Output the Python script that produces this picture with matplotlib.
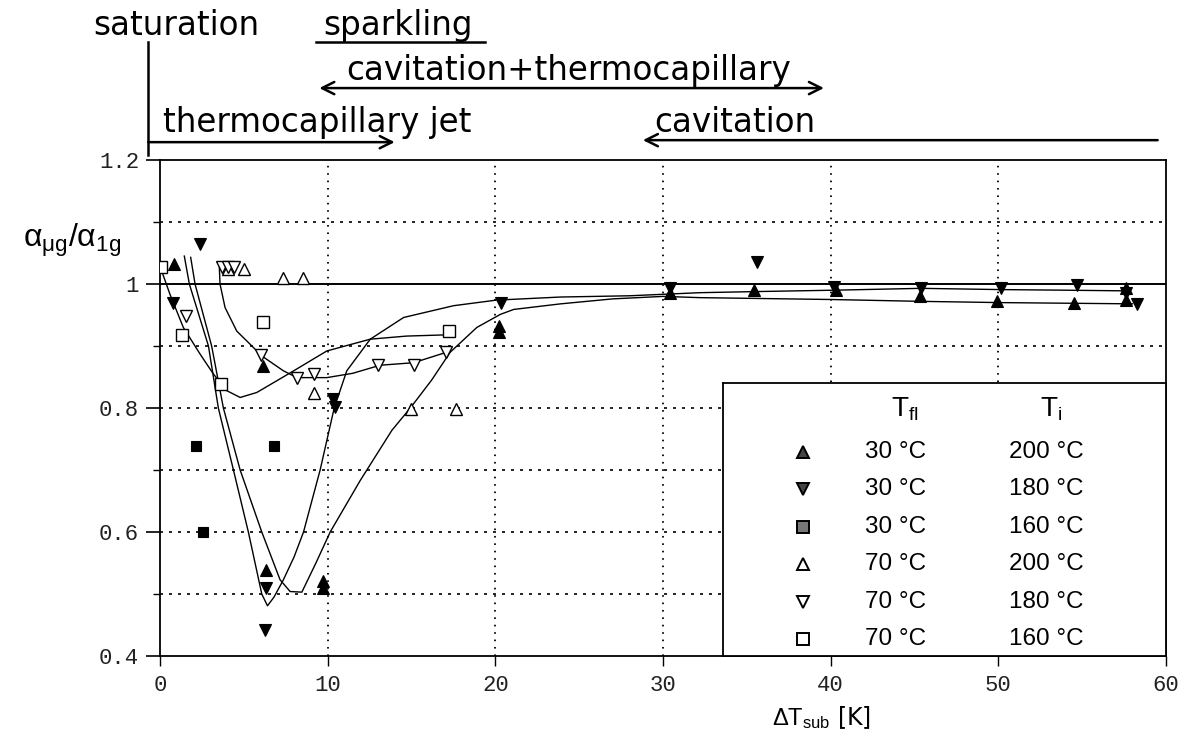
import matplotlib
matplotlib.use("Agg")
import matplotlib.pyplot as plt

plt.rcParams['mathtext.fontset'] = 'custom'
plt.rcParams['mathtext.rm'] = 'Liberation Sans'
plt.rcParams['mathtext.it'] = 'Liberation Sans:italic'
plt.rcParams['mathtext.bf'] = 'Liberation Sans:bold'

# measured points (dT_sub [K], alpha ratio)
# 30 C / 200 C  (filled up)
x_f200 = [0.84, 6.17, 6.33, 9.71, 9.75, 20.2, 20.2, 30.4, 35.4, 40.3, 45.3, 49.9, 54.5, 57.6, 57.6]
y_f200 = [1.033, 0.868, 0.539, 0.521, 0.510, 0.932, 0.922, 0.985, 0.991, 0.990, 0.980, 0.972, 0.970, 0.994, 0.975]
# 30 C / 180 C  (filled down)
x_f180 = [0.76, 2.39, 6.30, 6.27, 10.31, 10.45, 20.36, 30.4, 35.6, 40.2, 45.4, 50.15, 54.7, 57.6, 58.3]
y_f180 = [0.970, 1.064, 0.509, 0.442, 0.815, 0.801, 0.970, 0.994, 1.035, 0.995, 0.994, 0.994, 0.999, 0.985, 0.967]
# 30 C / 160 C  (filled square)
x_f160 = [2.15, 6.77, 2.55]
y_f160 = [0.738, 0.738, 0.600]
# 70 C / 200 C  (open up)
x_o200 = [4.08, 5.01, 7.36, 8.50, 9.16, 14.96, 17.67]
y_o200 = [1.025, 1.024, 1.010, 1.010, 0.825, 0.799, 0.799]
# 70 C / 180 C  (open down)
x_o180 = [1.55, 3.68, 4.08, 4.42, 6.01, 8.16, 9.21, 13.03, 15.12, 17.07]
y_o180 = [0.949, 1.028, 1.028, 1.028, 0.885, 0.849, 0.855, 0.869, 0.869, 0.891]
# 70 C / 160 C  (open square)
x_o160 = [0.06, 1.33, 3.62, 6.17, 17.21]
y_o160 = [1.028, 0.918, 0.838, 0.939, 0.924]

# fitted curves
fx_f180 = [1.45, 1.75, 2.89, 3.48, 4.38, 5.27, 6.07, 6.41, 6.8, 7.36, 8.0, 8.56, 9.55, 10.39, 11.14,
           12.54, 14.53, 17.51, 20.06, 23.9, 28.0, 32.2, 36.0, 40.2, 45.4, 50.1, 54.0, 57.4]
fy_f180 = [1.045, 1.0, 0.9, 0.8, 0.7, 0.6, 0.5, 0.481, 0.495, 0.523, 0.56, 0.6, 0.7, 0.8, 0.86,
           0.911, 0.946, 0.965, 0.974, 0.979, 0.981, 0.986, 0.988, 0.990, 0.993, 0.991, 0.990, 0.989]
fx_f200 = [1.83, 2.09, 3.08, 3.78, 4.78, 6.07, 7.16, 7.76, 8.46, 9.3, 10.15, 11.94, 13.83, 14.93, 16.2,
           17.31, 18.9, 20.3, 21.1, 23.9, 27.0, 30.0, 32.2, 40.0, 45.4, 50.1, 58.0]
fy_f200 = [1.043, 1.0, 0.9, 0.8, 0.7, 0.6, 0.523, 0.504, 0.503, 0.55, 0.6, 0.683, 0.764, 0.8, 0.845,
           0.89, 0.93, 0.951, 0.959, 0.968, 0.976, 0.980, 0.978, 0.975, 0.972, 0.970, 0.968]
fx_o160 = [0.06, 0.6, 1.39, 2.39, 3.18, 3.98, 4.78, 5.77, 6.97, 8.16, 9.95, 12.54, 14.7, 17.1]
fy_o160 = [1.024, 0.983, 0.93, 0.887, 0.855, 0.828, 0.817, 0.825, 0.844, 0.863, 0.892, 0.911, 0.916, 0.918]
fx_o180 = [3.54, 3.58, 3.88, 4.58, 5.37, 6.07, 7.36, 8.16, 9.95, 11.5, 13.13, 15.12, 17.1]
fy_o180 = [1.026, 1.0, 0.962, 0.924, 0.903, 0.884, 0.86, 0.849, 0.849, 0.856, 0.869, 0.873, 0.89]

x_ticks = [0, 10, 20, 30, 40, 50, 60]
x_ticklabels = ['0', '10', '20', '30', '40', '50', '60']
y_ticks = [0.4, 0.6, 0.8, 1.0, 1.2]
y_ticklabels = ['0.4', '0.6', '0.8', '1', '1.2']

leg_tfl = ['30 °C', '30 °C', '30 °C', '70 °C', '70 °C', '70 °C']
leg_ti = ['200 °C', '180 °C', '160 °C', '200 °C', '180 °C', '160 °C']

fig = plt.figure(figsize=(11.89, 7.36), dpi=100)
ax = fig.add_axes([160/1189, 80/736, 1006/1189, 496/736])
ax.set_xlim(0, 60)
ax.set_ylim(0.4, 1.2)

for s in ax.spines.values():
    s.set_linewidth(1.3)

mono = 'Liberation Mono'
ax.set_xticks(x_ticks, x_ticklabels, fontfamily=mono, fontsize=16, color='#222222')
ax.set_yticks(y_ticks, y_ticklabels, fontfamily=mono, fontsize=16, color='#222222')
ax.set_yticks([0.5, 0.7, 0.9, 1.1], minor=True)
ax.tick_params(axis='y', which='major', direction='out', length=10, width=1.2, pad=5)
ax.tick_params(axis='y', which='minor', direction='out', length=5, width=1.0)
ax.tick_params(axis='x', which='major', direction='out', length=7, width=1.0, pad=7)

# grid
for yv in [0.5, 0.6, 0.7, 0.8, 0.9, 1.1]:
    ax.axhline(yv, color='black', lw=1.2, dashes=(1.8, 3.6), zorder=1)
for xv in [10, 20, 30, 40, 50]:
    ax.axvline(xv, color='black', lw=1.3, dashes=(0.9, 3.2), zorder=1)
ax.axhline(1.0, color='black', lw=1.4, zorder=2)

# fitted curves
for fx, fy in [(fx_f180, fy_f180), (fx_f200, fy_f200), (fx_o160, fy_o160), (fx_o180, fy_o180)]:
    ax.plot(fx, fy, color='black', lw=1.0, zorder=3)

# data points
ax.plot(x_f200, y_f200, '^', ms=8, mfc='black', mec='black', mew=0.8, ls='none', zorder=4)
ax.plot(x_f180, y_f180, 'v', ms=8, mfc='black', mec='black', mew=0.8, ls='none', zorder=4)
ax.plot(x_f160, y_f160, 's', ms=7.5, mfc='black', mec='black', mew=0.8, ls='none', zorder=4)
ax.plot(x_o200, y_o200, '^', ms=9, mfc='white', mec='black', mew=1.0, ls='none', zorder=4)
ax.plot(x_o180, y_o180, 'v', ms=9, mfc='white', mec='black', mew=1.0, ls='none', zorder=4)
ax.plot(x_o160, y_o160, 's', ms=8, mfc='white', mec='black', mew=1.0, ls='none', zorder=4)

# axis labels
ax.set_xlabel(r'$\mathrm{\Delta T_{sub}}$ [K]', fontsize=17, va='center')
ax.xaxis.set_label_coords(0.658, -0.125)
fig.text(72/1189, 1 - 240/736, r'$\mathrm{\alpha_{\mu g}/\alpha_{1g}}$', fontsize=23,
         ha='center', va='center')

# regime annotations above the plot
tr = ax.get_xaxis_transform()
tfont = dict(fontsize=23.5, family='DejaVu Sans', transform=tr, ha='center', va='baseline',
             clip_on=False)
ax.text(1.0, 1.252, 'saturation', **tfont)
ax.plot([-0.7, -0.7], [1.238, 1.010], color='black', lw=1.8, transform=tr, clip_on=False)
ax.text(14.2, 1.252, 'sparkling', **tfont)
ax.plot([9.3, 19.4], [1.238, 1.238], color='black', lw=1.8, transform=tr, clip_on=False)
ax.text(24.4, 1.161, 'cavitation+thermocapillary', **tfont)
ax.text(9.4, 1.057, 'thermocapillary jet', **tfont)
ax.text(34.3, 1.057, 'cavitation', **tfont)

aprops = dict(lw=1.8, color='black', shrinkA=0, shrinkB=0, mutation_scale=22)
ax.annotate('', xy=(39.6, 1.145), xytext=(9.5, 1.145), xycoords=tr, textcoords=tr,
            arrowprops=dict(arrowstyle='<->', **aprops), annotation_clip=False)
ax.annotate('', xy=(14.0, 1.036), xytext=(-0.7, 1.036), xycoords=tr, textcoords=tr,
            arrowprops=dict(arrowstyle='->', **aprops), annotation_clip=False)
ax.annotate('', xy=(28.8, 1.040), xytext=(59.5, 1.040), xycoords=tr, textcoords=tr,
            arrowprops=dict(arrowstyle='->', **aprops), annotation_clip=False)

# legend table
lax = fig.add_axes([723/1189, 80/736, 443/1189, 273/736], zorder=3)
lax.set_xlim(0, 1)
lax.set_ylim(0, 1)
lax.set_xticks([])
lax.set_yticks([])
lax.set_facecolor('white')
for s in lax.spines.values():
    s.set_linewidth(1.3)

lfont = dict(fontsize=17.5, family='Liberation Sans', ha='center', va='center')
lax.text(0.41, 0.905, r'$\mathrm{T_{fl}}$', fontsize=20, ha='center', va='center')
lax.text(0.74, 0.905, r'$\mathrm{T_{i}}$', fontsize=20, ha='center', va='center')
leg_markers = [('^', '#444444'), ('v', '#444444'), ('s', '#777777'),
               ('^', 'white'), ('v', 'white'), ('s', 'white')]
for i, ((m, fc), t1, t2) in enumerate(zip(leg_markers, leg_tfl, leg_ti)):
    yy = 0.748 - i * 0.1374
    lax.plot([0.181], [yy], m, ms=9 if m != 's' else 8, mfc=fc, mec='black', mew=1.4)
    lax.text(0.39, yy, t1, **lfont)
    lax.text(0.73, yy, t2, **lfont)

fig.savefig('out.png', dpi=100)
